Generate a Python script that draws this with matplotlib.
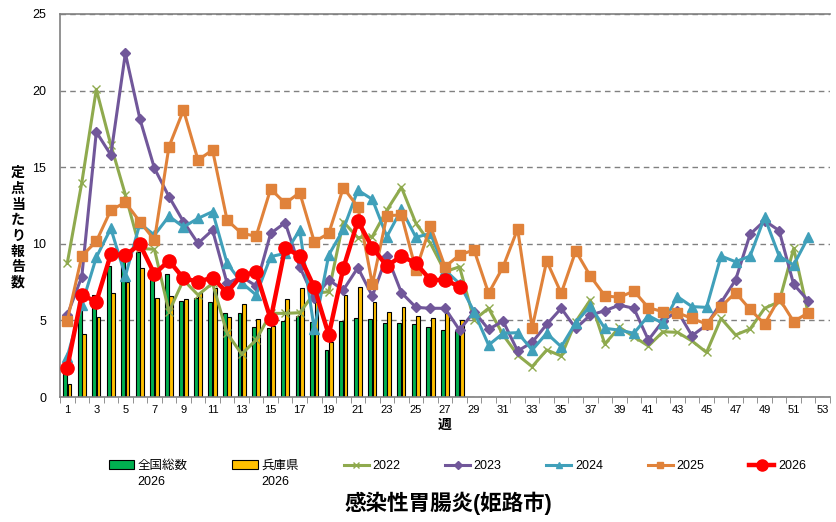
import numpy as np
import matplotlib
matplotlib.use("Agg")
import matplotlib.pyplot as plt
from matplotlib.lines import Line2D
from matplotlib.patches import Patch

plt.rcParams['font.family'] = ['Liberation Sans', 'Noto Sans CJK JP']

# weekly reports per sentinel site
y2022 = [8.73, 13.99, 20.08, 16.45, 13.2, 9.7, 9.64, 5.57, 7.64, 6.66, 7.42, 4.16, 2.81, 3.72, 5.46, 5.46,
         5.5, 6.77, 6.87, 11.44, 10.4, 10.47, 12.2, 13.69, 11.33, 10.03, 8.18, 8.5, 5.03, 5.79, 4.05, 2.74,
         1.98, 3.07, 2.68, 4.92, 6.33, 3.46, 4.55, 3.94, 3.33, 4.26, 4.22, 3.66, 2.91, 5.13, 4.05, 4.44,
         5.79, 6.22, 9.7, 5.46]
y2023 = [5.35, 7.85, 17.3, 15.8, 22.43, 18.15, 14.93, 13.08, 11.44, 10.03, 10.9, 7.42, 7.85, 7.25, 10.68,
         11.38, 8.5, 6.44, 7.64, 6.98, 8.44, 6.59, 9.23, 6.81, 5.85, 5.79, 5.79, 4.37, 5.57, 4.42, 4.95,
         3.0, 3.57, 4.74, 5.79, 4.48, 5.35, 5.63, 6.0, 5.79, 3.72, 4.96, 5.61, 4.0, 4.7, 6.16, 7.64, 10.62,
         11.51, 10.86, 7.35, 6.29]
y2024 = [2.63, 6.0, 9.12, 11.0, 7.9, 11.33, 10.57, 11.8, 11.1, 11.66, 12.1, 8.73, 7.46, 6.66, 9.16, 9.38,
         10.9, 4.42, 9.27, 10.94, 13.5, 12.9, 10.47, 12.25, 10.42, 10.68, 8.29, 7.4, 5.57, 3.39, 4.16, 4.2,
         3.07, 4.16, 3.28, 4.85, 5.94, 4.48, 4.37, 4.16, 5.31, 4.81, 6.55, 5.9, 5.85, 9.2, 8.83, 9.2, 11.73,
         9.2, 8.62, 10.42]
y2025 = [4.98, 9.2, 10.16, 12.2, 12.7, 11.44, 10.25, 16.34, 18.73, 15.47, 16.12, 11.55, 10.68, 10.5, 13.58,
         12.64, 13.34, 10.14, 10.68, 13.66, 12.42, 7.35, 11.84, 11.88, 8.29, 11.16, 8.5, 9.27, 9.6, 6.77,
         8.5, 10.97, 4.52, 8.88, 6.77, 9.53, 7.9, 6.61, 6.5, 6.92, 5.83, 5.57, 5.5, 5.13, 4.76, 5.9, 6.81,
         5.72, 4.76, 6.44, 4.92, 5.5]
y2026 = [1.91, 6.66, 6.22, 9.33, 9.25, 9.97, 8.03, 8.9, 7.75, 7.53, 7.79, 6.81, 7.96, 8.14, 5.07, 9.75,
         9.2, 7.16, 4.05, 8.4, 11.49, 9.75, 8.55, 9.2, 8.73, 7.64, 7.64, 7.2]
national_2026 = [2.0, 6.2, 6.64, 8.55, 8.9, 9.46, 7.9, 8.0, 6.27, 6.44, 6.22, 5.46, 5.46, 4.55, 4.52, 4.98,
                 5.29, 4.88, 3.07, 4.96, 5.18, 5.07, 4.81, 4.85, 4.74, 4.55, 4.37, 4.3]
hyogo_2026 = [0.83, 4.09, 5.2, 6.77, 7.48, 8.41, 6.44, 6.61, 6.37, 6.77, 7.1, 5.24, 6.05, 5.07, 4.65, 6.37,
              7.1, 6.2, 3.61, 6.68, 7.16, 6.18, 5.53, 5.85, 5.31, 5.13, 5.46, 5.0]

n_weeks = 53

fig = plt.figure(figsize=(8.37, 5.22), dpi=100)
ax = fig.add_axes([60/837, 1 - 397/522, 770/837, 383/522])

def wk(vals):
    return np.arange(1, len(vals) + 1)

bw = 0.26
ax.bar(wk(national_2026) - 0.15, national_2026, bw, color='#00B050', edgecolor='black', linewidth=0.8, zorder=2)
ax.bar(wk(hyogo_2026) + 0.15, hyogo_2026, bw, color='#FFC000', edgecolor='black', linewidth=0.8, zorder=2)

ax.plot(wk(y2022), y2022, color='#8FAA4E', lw=2.2, marker='x', ms=6, mew=1.0, zorder=3)
ax.plot(wk(y2023), y2023, color='#71579A', lw=2.2, marker='D', ms=5, zorder=3)
ax.plot(wk(y2024), y2024, color='#40A0BA', lw=2.2, marker='^', ms=7, zorder=3)
ax.plot(wk(y2025), y2025, color='#E0823A', lw=2.2, marker='s', ms=6.5, zorder=3)
ax.plot(wk(y2026), y2026, color='#FF0000', lw=3.2, marker='o', ms=9.5, zorder=4)

ax.set_xlim(0.5, n_weeks + 0.5)
ax.set_ylim(0, 25)
ax.set_yticks(range(0, 26, 5))
ax.yaxis.grid(True, linestyle=(0, (4, 3)), color='#808080', lw=1.0)
ax.set_axisbelow(True)
ax.tick_params(axis='y', length=0, labelsize=9, pad=10)
ax.set_xticks(range(1, n_weeks + 1, 2))
ax.set_xticks(np.arange(0.5, n_weeks + 1, 1), minor=True)
ax.tick_params(axis='x', which='major', length=0, labelsize=8, pad=6)
ax.tick_params(axis='x', which='minor', length=4, color='#808080')
for s in ['left', 'bottom', 'top']:
    ax.spines[s].set_color('#808080')
    ax.spines[s].set_linewidth(1.2)
ax.spines['right'].set_visible(False)

ax.set_xlabel('週', fontsize=10, fontweight='bold', labelpad=2)
fig.text(18/837, 1 - 228/522, '\n'.join('定点当たり報告数'), ha='center', va='center',
         fontsize=10, fontweight='bold', linespacing=1.15)

handles = [
    Patch(facecolor='#00B050', edgecolor='black', linewidth=0.8),
    Patch(facecolor='#FFC000', edgecolor='black', linewidth=0.8),
    Line2D([], [], color='#8FAA4E', lw=2.2, marker='x', ms=5, mew=1.0),
    Line2D([], [], color='#71579A', lw=2.2, marker='D', ms=4),
    Line2D([], [], color='#40A0BA', lw=2.2, marker='^', ms=5),
    Line2D([], [], color='#E0823A', lw=2.2, marker='s', ms=5),
    Line2D([], [], color='#FF0000', lw=3.2, marker='o', ms=8),
]
labels = ['全国総数', '兵庫県', '2022', '2023', '2024', '2025', '2026']
leg = fig.legend(handles, labels, ncol=7, loc='center left', bbox_to_anchor=(109/837, 1 - 466/522),
                 frameon=False, fontsize=9, handlelength=2.0, handleheight=0.7, handletextpad=0.3,
                 columnspacing=3.58, borderpad=0, borderaxespad=0)

# second line of the bar labels
fig.canvas.draw()
r = fig.canvas.get_renderer()
for t in leg.get_texts()[:2]:
    bb = t.get_window_extent(r)
    fig.text(bb.x0 / fig.bbox.width, (bb.y0 - 4) / fig.bbox.height, '2026',
             ha='left', va='top', fontsize=9)

fig.text(448/837, 1 - 503/522, '感染性胃腸炎(姫路市)', ha='center', va='center',
         fontsize=15.5, fontweight='bold')

fig.savefig('out.png', dpi=100)
